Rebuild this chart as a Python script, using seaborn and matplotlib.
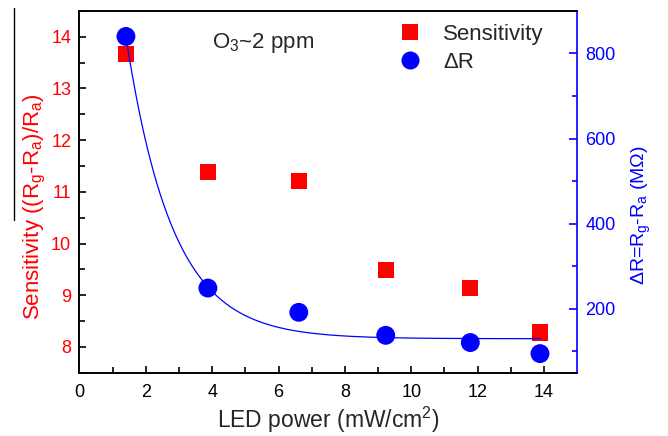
import numpy as np
import pandas as pd
import matplotlib
matplotlib.use("Agg")
import matplotlib.pyplot as plt
from matplotlib.lines import Line2D
import seaborn as sns

# Measured values
led_power = [1.40, 3.87, 6.61, 9.23, 11.78, 13.88]       # mW/cm^2
sensitivity = [13.67, 11.39, 11.21, 9.49, 9.14, 8.28]    # (Rg-Ra)/Ra
delta_r = [840, 249, 192, 138, 121, 95]                  # MOhm

# Exponential decay fit of delta R: y0 + A*exp(-x/t)
fit_y0, fit_a, fit_t = 130.0, 1930.0, 1.40
fit_range = (1.40, 13.90)

RED = "#ff0000"
BLUE = "#0000ff"

sns.set_theme(style="ticks")
plt.rcParams.update({
    "font.family": ["Liberation Sans", "DejaVu Sans"],
    "mathtext.fontset": "custom",
    "mathtext.rm": "Liberation Sans",
    "mathtext.it": "Liberation Sans",
    "xtick.direction": "in",
    "ytick.direction": "in",
    "xtick.bottom": True,
    "ytick.left": True,
    "xtick.color": "black",
    "ytick.color": "black",
    "axes.axisbelow": False,
})

df = pd.DataFrame({"power": led_power, "sens": sensitivity, "dr": delta_r})
xf = np.linspace(fit_range[0], fit_range[1], 400)
fit_df = pd.DataFrame({"power": xf, "dr": fit_y0 + fit_a * np.exp(-xf / fit_t)})

fig = plt.figure(figsize=(6.68, 4.36), dpi=100)
ax = fig.add_axes([0.119, 0.145, 0.745, 0.830])
ax2 = ax.twinx()

sns.scatterplot(data=df, x="power", y="sens", ax=ax, marker="s", s=135,
                color=RED, edgecolor="none", zorder=3)
sns.lineplot(data=fit_df, x="power", y="dr", ax=ax2, color=BLUE, lw=0.9, zorder=2)
sns.scatterplot(data=df, x="power", y="dr", ax=ax2, marker="o", s=185,
                color=BLUE, edgecolor="none", zorder=4)

ax.set_xlim(0, 15)
ax.set_ylim(7.5, 14.5)
ax2.set_ylim(50, 900)

ax.set_xticks(np.arange(0, 15, 2))
ax.set_xticks(np.arange(1, 15, 2), minor=True)
ax.set_yticks(np.arange(8, 15, 1))
ax.set_yticks(np.arange(7.5, 14.6, 0.5), minor=True)
ax2.set_yticks([200, 400, 600, 800])
ax2.set_yticks([100, 300, 500, 700], minor=True)

ax.tick_params(axis="x", which="both", direction="in", bottom=True, top=False,
               color="black", labelcolor="black", labelsize=13, pad=8, width=1.2)
ax.tick_params(axis="x", which="major", length=5)
ax.tick_params(axis="x", which="minor", length=4)
ax.tick_params(axis="y", which="both", direction="in", left=True, right=False,
               color="black", labelcolor=RED, labelsize=13, pad=6, width=1.2)
ax.tick_params(axis="y", which="major", length=5)
ax.tick_params(axis="y", which="minor", length=4)
ax2.tick_params(axis="y", which="both", direction="in", right=True, left=False,
                color=BLUE, labelcolor=BLUE, labelsize=13, pad=6, width=1.2)
ax2.tick_params(axis="y", which="major", length=6)
ax2.tick_params(axis="y", which="minor", length=3.5)
ax2.tick_params(axis="x", which="both", bottom=False, top=False,
                labelbottom=False)

for a in (ax, ax2):
    for side in ("left", "bottom", "top"):
        a.spines[side].set_visible(True)
        a.spines[side].set_color("black")
        a.spines[side].set_linewidth(1.2)
ax2.spines["right"].set_visible(True)
ax2.spines["right"].set_color(BLUE)
ax2.spines["right"].set_linewidth(1.2)
ax.spines["right"].set_visible(False)

ax.set_xlabel("LED power (mW/cm$^2$)", fontsize=16.5, labelpad=3)
ax.set_ylabel("Sensitivity ((R$_g$-R$_a$)/R$_a$)", fontsize=16, color=RED, labelpad=2)
ax.yaxis.label.set_y(0.458)
ax2.set_ylabel("ΔR=R$_g$-R$_a$ (MΩ)", fontsize=14, color=BLUE, labelpad=10)
ax2.yaxis.label.set_y(0.436)

ax.text(0.267, 0.911, "O$_3$~2 ppm", transform=ax.transAxes, fontsize=16,
        ha="left", va="center")

handles = [
    Line2D([], [], marker="s", linestyle="none", color=RED, markersize=11.5,
           markeredgewidth=0),
    Line2D([], [], marker="o", linestyle="none", color=BLUE, markersize=13,
           markeredgewidth=0),
]
ax.legend(handles, ["Sensitivity", "ΔR"], loc="upper left",
          bbox_to_anchor=(0.592, 1.0), frameon=False, fontsize=16,
          handletextpad=0.5, labelspacing=0.3, borderaxespad=0.2)

# Bar drawn beside the left axis title
fig.add_artist(Line2D([0.021, 0.021], [1 - 8 / 436, 1 - 220 / 436],
                      color="black", lw=1.0, transform=fig.transFigure))

fig.savefig("out.png", dpi=100)
